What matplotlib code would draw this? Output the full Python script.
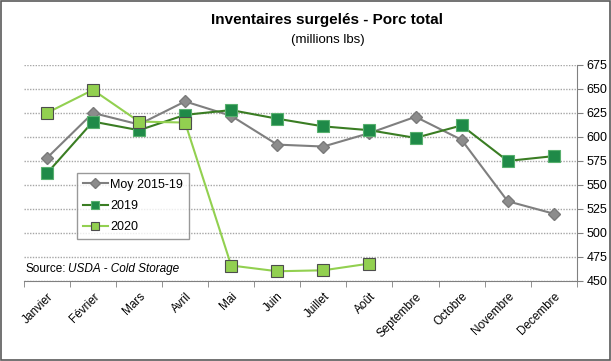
import matplotlib.pyplot as plt
import numpy as np
from matplotlib.patches import Rectangle

plt.rcParams['font.family'] = ['Liberation Sans', 'DejaVu Sans']

# === DATA === #
months = ['Janvier', 'Février', 'Mars', 'Avril', 'Mai', 'Juin', 'Juillet', 'Août',
          'Septembre', 'Octobre', 'Novembre', 'Decembre']
moy_2015_19 = [578, 625, 613, 637, 622, 592, 590, 604, 621, 597, 533, 520]
y2019 = [562, 616, 607, 623, 628, 619, 611, 607, 599, 612, 575, 580]
y2020 = [625, 649, 616, 615, 466, 460, 461, 468]
yticks = [450, 475, 500, 525, 550, 575, 600, 625, 650, 675]

# === FIGURE === #
fig = plt.figure(figsize=(6.11, 3.61), dpi=100)
fig.patches.append(Rectangle((0.001, 0.002), 0.997, 0.995, transform=fig.transFigure,
                             fill=False, edgecolor='#5a5a5a', linewidth=1.2))
ax = fig.add_axes([0.039, 0.222, 0.905, 0.598])

x = np.arange(len(months))
ax.plot(x, moy_2015_19, '-D', color='#7f7f7f', linewidth=1.5, markersize=6.5,
        markerfacecolor='#8c8c8c', markeredgecolor='#7a7a7a', label='Moy 2015-19', zorder=3)
ax.plot(x, y2019, '-s', color='#3a7d23', linewidth=1.5, markersize=9,
        markerfacecolor='#1f8a48', markeredgecolor='#58b06e', markeredgewidth=0.8,
        label='2019', zorder=4)
ax.plot(x[:len(y2020)], y2020, '-s', color='#92d050', linewidth=1.5, markersize=9,
        markerfacecolor='#92d050', markeredgecolor='#4d4d4d', markeredgewidth=0.8,
        label='2020', zorder=5)

# axes styling
ax.set_xlim(-0.5, len(months) - 0.5)
ax.set_ylim(450, 675)
ax.yaxis.tick_right()
ax.set_yticks(yticks)
ax.tick_params(axis='y', labelsize=9, length=4, color='#808080', pad=3)
ax.grid(axis='y', linestyle=(0, (1, 1)), color='#a6a6a6', linewidth=1.0)
ax.set_axisbelow(True)
for s in ['top', 'left']:
    ax.spines[s].set_visible(False)
ax.spines['right'].set_color('#808080')
ax.spines['bottom'].set_color('#808080')

ax.set_xticks(x)
ax.set_xticklabels(months, rotation=45, ha='right', rotation_mode='anchor', fontsize=8.5)
ax.tick_params(axis='x', which='major', length=0, pad=7)
ax.set_xticks(np.arange(-0.5, len(months)), minor=True)
ax.tick_params(axis='x', which='minor', length=4, color='#808080')

leg = ax.legend(loc='upper left', bbox_to_anchor=(0.096, 0.5), fontsize=9,
                frameon=True, fancybox=False, edgecolor='#808080', borderpad=0.45,
                borderaxespad=0, handlelength=2.0, labelspacing=0.75, handletextpad=0.2)
leg.get_frame().set_linewidth(1.0)
for h in leg.legend_handles:
    h.set_markersize(5.5)

# titles
fig.text(0.535, 0.945, 'Inventaires surgelés - Porc total', ha='center', va='center',
         fontsize=11, fontweight='bold')
fig.text(0.537, 0.888, '(millions lbs)', ha='center', va='center', fontsize=9.5)

# source
fig.text(0.041, 0.255, 'Source:', fontsize=8.5, ha='left', va='center')
fig.text(0.112, 0.255, 'USDA - Cold Storage', fontsize=8.5, style='italic', ha='left', va='center')

fig.savefig('out.png', dpi=100)
